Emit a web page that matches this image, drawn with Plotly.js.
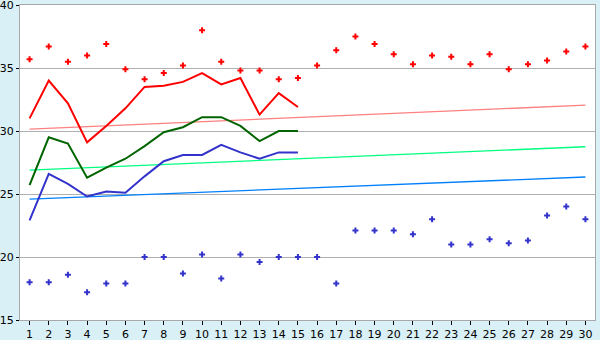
<!DOCTYPE html>
<html><head><meta charset="utf-8">
<script src="https://cdn.plot.ly/plotly-3.0.1.min.js"></script>
<style>html,body{margin:0;padding:0;background:#daf0f7;}#c{width:600px;height:340px;}</style>
</head><body><div id="c"></div>
<script>
const days = [1,2,3,4,5,6,7,8,9,10,11,12,13,14,15,16,17,18,19,20,21,22,23,24,25,26,27,28,29,30];
const maxPts = [35.7,36.7,35.5,36.0,36.9,34.9,34.1,34.6,35.2,38.0,35.5,34.8,34.8,34.1,34.2,35.2,36.4,37.5,36.9,36.1,35.3,36.0,35.9,35.3,36.1,34.9,35.3,35.6,36.3,36.7];
const minPts = [18.0,18.0,18.6,17.2,17.9,17.9,20.0,20.0,18.7,20.2,18.3,20.2,19.6,20.0,20.0,20.0,17.9,22.1,22.1,22.1,21.8,23.0,21.0,21.0,21.4,21.1,21.3,23.3,24.0,23.0];
const lineDays = [1,2,3,4,5,6,7,8,9,10,11,12,13,14,15];
const redLine = [31.0,34.0,32.2,29.1,30.4,31.8,33.5,33.6,33.9,34.6,33.7,34.2,31.3,33.0,31.9];
const greenLine = [25.7,29.5,29.0,26.3,27.1,27.8,28.8,29.9,30.3,31.1,31.1,30.4,29.2,30.0,30.0];
const blueLine = [22.9,26.6,25.8,24.8,25.2,25.1,26.4,27.6,28.1,28.1,28.9,28.3,27.8,28.3,28.3];
const trendDays = [1,30];
const redTrend = [30.15,32.05];
const greenTrend = [26.9,28.75];
const blueTrend = [24.6,26.35];

const traces = [
  {x:trendDays,y:redTrend,mode:'lines',line:{color:'#ff8080',width:1.3}},
  {x:trendDays,y:greenTrend,mode:'lines',line:{color:'#00ff80',width:1.3}},
  {x:trendDays,y:blueTrend,mode:'lines',line:{color:'#0080ff',width:1.3}},
  {x:lineDays,y:redLine,mode:'lines',line:{color:'#ff0000',width:2}},
  {x:lineDays,y:greenLine,mode:'lines',line:{color:'#006400',width:2}},
  {x:lineDays,y:blueLine,mode:'lines',line:{color:'#3333cc',width:2}},
  {x:days,y:maxPts,mode:'markers',marker:{symbol:'cross',size:5,color:'#ff0000',line:{width:0}}},
  {x:days,y:minPts,mode:'markers',marker:{symbol:'cross',size:5,color:'#3333cc',line:{width:0}}}
];
const layout = {
  width:600,height:340,
  margin:{l:20,r:5,t:5,b:20,pad:0},
  paper_bgcolor:'#daf0f7',plot_bgcolor:'#ffffff',
  showlegend:false,
  font:{family:'DejaVu Sans, Verdana, sans-serif',size:11,color:'#000'},
  xaxis:{range:[0.5,30.5],tickmode:'array',tickvals:days,ticktext:days.map(String),
    showgrid:false,zeroline:false,showline:true,linecolor:'#a8a8a8',linewidth:1,mirror:true,
    ticks:'outside',ticklen:4,tickcolor:'#000',tickfont:{size:11},ticklabeloverflow:'allow'},
  yaxis:{range:[15,40],tickvals:[15,20,25,30,35,40],showgrid:true,gridcolor:'#b0b0b0',gridwidth:1,
    zeroline:false,showline:true,linecolor:'#a8a8a8',linewidth:1,mirror:true,
    ticks:'outside',ticklen:3,tickcolor:'#000',tickfont:{size:11},ticklabeloverflow:'allow'}
};
Plotly.newPlot('c',traces,layout,{staticPlot:true,displayModeBar:false});
</script></body></html>
